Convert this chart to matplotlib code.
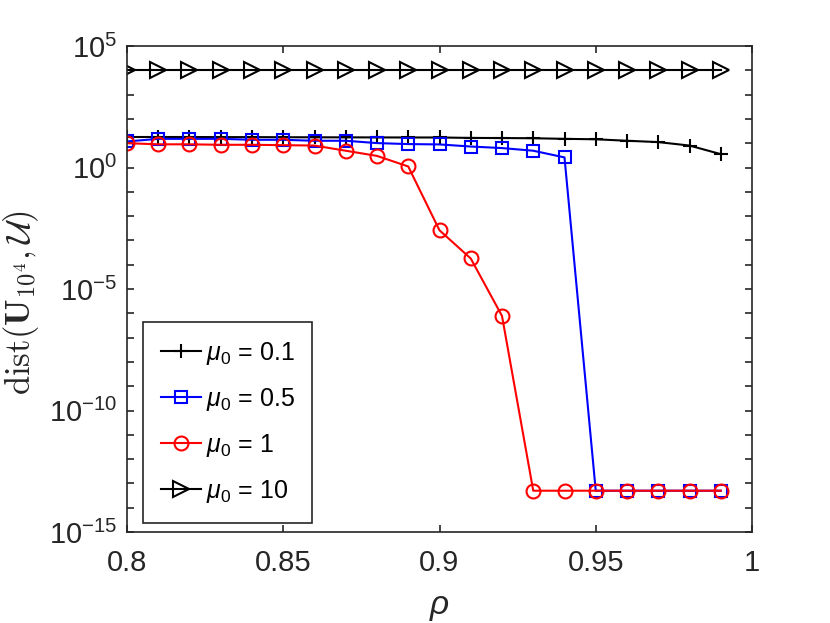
import matplotlib
matplotlib.use("Agg")
import matplotlib.pyplot as plt
import numpy as np
from matplotlib.ticker import FixedLocator, NullFormatter

# ------------------------------------------
# data
# ------------------------------------------
rho = [0.80, 0.81, 0.82, 0.83, 0.84, 0.85, 0.86, 0.87, 0.88, 0.89,
       0.90, 0.91, 0.92, 0.93, 0.94, 0.95, 0.96, 0.97, 0.98, 0.99]

dist_mu01 = [18.0, 18.0, 18.0, 17.8, 17.8, 17.6, 17.5, 17.4, 17.3, 17.2,
             17.2, 16.5, 16.3, 16.0, 15.1, 14.5, 12.6, 11.1, 8.0, 3.55]
dist_mu05 = [11.8, 15.1, 15.1, 15.1, 13.8, 13.8, 12.6, 12.6, 10.1, 9.2,
             8.9, 7.3, 6.3, 4.9, 2.6, 5e-14, 5e-14, 5e-14, 5e-14, 5e-14]
dist_mu1 = [10.0, 9.0, 9.0, 8.6, 8.6, 8.3, 8.0, 4.9, 3.0, 1.1,
            2.6e-3, 1.8e-4, 7.8e-7, 5e-14, 5e-14, 5e-14, 5e-14, 5e-14, 5e-14, 5e-14]
dist_mu10 = [1.0e4] * 20

labels = [r"$\mu_0$ = 0.1", r"$\mu_0$ = 0.5", r"$\mu_0$ = 1", r"$\mu_0$ = 10"]

plt.rcParams["font.family"] = ["Liberation Sans", "DejaVu Sans"]
plt.rcParams["mathtext.fontset"] = "custom"
plt.rcParams["mathtext.rm"] = "Liberation Sans"
plt.rcParams["mathtext.it"] = "Liberation Sans:italic"
plt.rcParams["mathtext.bf"] = "Liberation Sans:bold"

dark = "#262626"

fig = plt.figure(figsize=(8.3, 6.23), dpi=100)
ax = fig.add_axes([127 / 830, 1 - 532 / 623, 625 / 830, 486 / 623])

ax.semilogy(rho, dist_mu01, color="black", marker="+", markersize=10,
            markeredgewidth=1.5, linewidth=1.5, label=labels[0])
ax.semilogy(rho, dist_mu05, color="blue", marker="s", markersize=8,
            markerfacecolor="none", markeredgewidth=1.5, linewidth=1.5, label=labels[1])
ax.semilogy(rho, dist_mu1, color="red", marker="o", markersize=10,
            markerfacecolor="none", markeredgewidth=1.5, linewidth=1.5, label=labels[2])
ax.semilogy(rho, dist_mu10, color="black", marker=">", markersize=11,
            markerfacecolor="none", markeredgewidth=1.5, linewidth=1.5, label=labels[3])

ax.set_xlim(0.8, 1.0)
ax.set_ylim(1e-15, 1e5)
ax.set_xticks([0.8, 0.85, 0.9, 0.95, 1.0])
ax.set_xticklabels(["0.8", "0.85", "0.9", "0.95", "1"])
major = [1e-15, 1e-10, 1e-5, 1e0, 1e5]
ax.yaxis.set_major_locator(FixedLocator(major))
ax.set_yticklabels([r"$10^{-15}$", r"$10^{-10}$", r"$10^{-5}$", r"$10^{0}$", r"$10^{5}$"])
ax.yaxis.set_minor_locator(FixedLocator([10.0 ** k for k in range(-15, 6)]))
ax.yaxis.set_minor_formatter(NullFormatter())

ax.tick_params(which="both", direction="in", top=True, right=True,
               length=5, width=1.2, colors=dark, labelsize=21)
ax.tick_params(axis="x", pad=12)
ax.tick_params(axis="y", pad=7)
for s in ax.spines.values():
    s.set_color(dark)
    s.set_linewidth(1.2)

ax.set_xlabel(r"$\rho$", fontsize=24, color=dark, labelpad=11)
ax.set_ylabel(r"$\mathrm{dist}(\mathbf{U}_{10^4},\mathcal{U})$", fontsize=25,
              color=dark, math_fontfamily="cm")
ax.yaxis.set_label_coords(-0.138, 0.473)

leg = ax.legend(loc="lower left", bbox_to_anchor=(0.025, 0.019), fontsize=18,
                frameon=True, fancybox=False, framealpha=1, borderaxespad=0,
                handlelength=1.6, labelspacing=0.76, borderpad=0.72, handletextpad=0.2)
leg.get_frame().set_edgecolor(dark)
leg.get_frame().set_linewidth(1.2)

fig.savefig("out.png", dpi=100)
